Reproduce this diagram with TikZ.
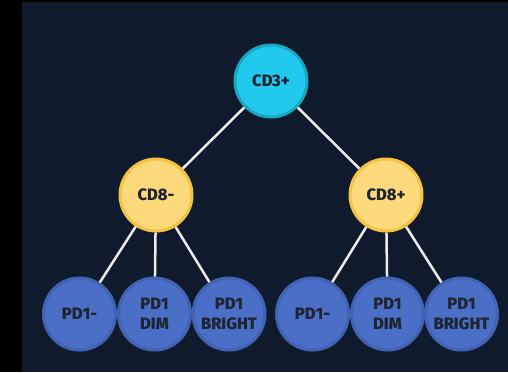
\documentclass[tikz,border=0pt]{standalone}
\usepackage{fontspec}
\setmainfont{Fira Sans}[BoldFont={Fira Sans ExtraBold}]
\definecolor{bgnavy}{HTML}{0F1B2D}
\definecolor{cyanfill}{HTML}{22C9EE}
\definecolor{cyanline}{HTML}{1AA7C2}
\definecolor{yelfill}{HTML}{FCD97A}
\definecolor{yelline}{HTML}{F5C242}
\definecolor{bluefill}{HTML}{4B6FC6}
\definecolor{blueline}{HTML}{4262B4}
\definecolor{txtdark}{HTML}{1E2430}
\definecolor{linkgray}{HTML}{ECECEC}
\begin{document}
\begin{tikzpicture}[x=1pt,y=-1pt,
  bubble/.style={circle, minimum size=72pt, inner sep=0pt, line width=3pt,
    align=center, text=txtdark, font=\bfseries\fontsize{16.5}{19.5}\selectfont},
  topbub/.style={bubble, fill=cyanfill, draw=cyanline},
  midbub/.style={bubble, fill=yelfill, draw=yelline},
  leafbub/.style={bubble, fill=bluefill, draw=blueline},
  link/.style={draw=linkgray, line width=2.5pt}]
\fill[black] (0,0) rectangle (508,372);
\fill[bgnavy] (22,2) rectangle (508,372);
\useasboundingbox (0,0) rectangle (508,372);
\node[topbub] (cd3) at (271,81) {CD3+};
\node[midbub] (cd8m) at (156,195) {CD8-};
\node[midbub] (cd8p) at (386,195) {CD8+};
\node[leafbub] (a1) at (79.5,314) {PD1-};
\node[leafbub] (a2) at (154.5,314) {PD1\\DIM};
\node[leafbub] (a3) at (229,314) {PD1\\BRIGHT};
\node[leafbub] (b1) at (312.5,314) {PD1-};
\node[leafbub] (b2) at (387.5,314) {PD1\\DIM};
\node[leafbub] (b3) at (461.5,314) {PD1\\BRIGHT};
\path[link] (cd3) -- (cd8m);
\path[link] (cd3) -- (cd8p);
\path[link] (cd8m) -- (a1);
\path[link] (cd8m) -- (a2);
\path[link] (cd8m) -- (a3);
\path[link] (cd8p) -- (b1);
\path[link] (cd8p) -- (b2);
\path[link] (cd8p) -- (b3);
\end{tikzpicture}
\end{document}
